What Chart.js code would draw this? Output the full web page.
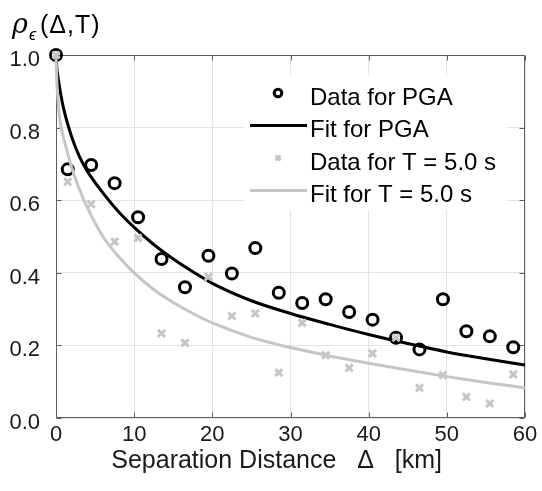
<!DOCTYPE html>
<html>
<head>
<meta charset="utf-8">
<script src="https://cdn.jsdelivr.net/npm/chart.js"></script>
<style>
  body { margin: 0; background: #fff; }
  #wrap { position: relative; width: 542px; height: 491px; }
  #yLabel {
    position: absolute; left: 12px; top: 11px;
    font: 25px "Liberation Sans", Arial, sans-serif; line-height: 25px;
    color: #000; white-space: nowrap; letter-spacing: 1px;
  }
  #yLabel i { font-family: "DejaVu Serif", serif; font-size: 27px; }
  #yLabel sub { font-size: 16px; font-style: italic; vertical-align: -7px; margin-right: 3px; }
</style>
</head>
<body>
<div id="wrap">
  <canvas id="chart" width="542" height="491"></canvas>
  <div id="yLabel"><i>ρ</i><sub>ϵ</sub>(Δ,T)</div>
</div>
<script>
// Afstand mellem stationer (km)
const distKm = [0, 1.5, 4.5, 7.5, 10.5, 13.5, 16.5, 19.5, 22.5, 25.5, 28.5,
                31.5, 34.5, 37.5, 40.5, 43.5, 46.5, 49.5, 52.5, 55.5, 58.5];
// Empiriske korrelationer
const pgaData = [1.0, 0.685, 0.697, 0.647, 0.553, 0.438, 0.36, 0.447, 0.398, 0.468, 0.345,
                 0.317, 0.327, 0.292, 0.271, 0.221, 0.189, 0.327, 0.239, 0.225, 0.195];
const t5Data = [1.0, 0.651, 0.589, 0.486, 0.496, 0.233, 0.207, 0.389, 0.281, 0.288, 0.125,
                0.262, 0.173, 0.138, 0.178, 0.221, 0.083, 0.118, 0.058, 0.04, 0.12];

// Tilpassede kurver
const fitDist = [0, 0.1, 0.25, 0.5, 1, 2, 3, 4, 6, 8, 10, 12.5, 15, 17.5, 20,
                 25, 30, 35, 40, 45, 50, 55, 60];
const pgaFit = [1.0, 0.965, 0.94, 0.905, 0.85, 0.775, 0.72, 0.68, 0.62, 0.568, 0.525, 0.478,
                0.438, 0.403, 0.371, 0.323, 0.288, 0.258, 0.23, 0.205, 0.182, 0.163, 0.146];
const t5Fit = [1.0, 0.93, 0.88, 0.82, 0.77, 0.69, 0.63, 0.58, 0.5, 0.445, 0.4, 0.354,
               0.318, 0.288, 0.262, 0.222, 0.194, 0.171, 0.151, 0.132, 0.114, 0.098, 0.083];

const xTicks = [0, 10, 20, 30, 40, 50, 60];
const yTicks = [0, 0.2, 0.4, 0.6, 0.8, 1.0];
const legendLabels = ['Data for PGA', 'Fit for PGA', 'Data for T = 5.0 s', 'Fit for T = 5.0 s'];

const FONT = '"Liberation Sans", Arial, Helvetica, sans-serif';
const GRAY = '#c6c6c6';

function toPoints(xs, ys) {
    return xs.map(function(x, i) { return { x: x, y: ys[i] }; });
}

// Ramme, indadgående tickmærker og legende
const framePlugin = {
    id: 'framePlugin',
    beforeDatasetsDraw(chart) {
        const ctx = chart.ctx;
        const a = chart.chartArea;
        const xs = chart.scales.x, ys = chart.scales.y;
        const L = Math.round(a.left) + 0.5, R = Math.round(a.right) - 0.5;
        const T = Math.round(a.top) + 0.5, B = Math.round(a.bottom) - 0.5;
        ctx.save();
        ctx.strokeStyle = '#5e5e5e';
        ctx.lineWidth = 1;
        ctx.beginPath();
        ctx.rect(L, T, R - L, B - T);
        xTicks.forEach(function(v) {
            const px = Math.round(xs.getPixelForValue(v)) + 0.5;
            ctx.moveTo(px, B); ctx.lineTo(px, B - 5);
            ctx.moveTo(px, T); ctx.lineTo(px, T + 5);
        });
        yTicks.forEach(function(v) {
            const py = Math.round(ys.getPixelForValue(v)) + 0.5;
            ctx.moveTo(L, py); ctx.lineTo(L + 5, py);
            ctx.moveTo(R, py); ctx.lineTo(R - 5, py);
        });
        ctx.stroke();

        // Legende
        ctx.fillStyle = '#fff';
        ctx.fillRect(244, 75, 263, 135);
        const baselines = [104.5, 137, 169.5, 202];
        const ds = chart.data.datasets;
        baselines.forEach(function(by, i) {
            const d = ds[i];
            const my = by - 11.5;
            ctx.strokeStyle = d.borderColor;
            ctx.lineWidth = d.borderWidth;
            if (d.showLine) {
                ctx.beginPath();
                ctx.moveTo(250, my); ctx.lineTo(307, my);
                ctx.stroke();
            } else {
                ctx.fillStyle = 'rgba(0,0,0,0)';
                Chart.helpers.drawPoint(ctx, {
                    pointStyle: d.pointStyle,
                    radius: d.pointStyle === 'circle' ? 3.8 : 3.6,
                    rotation: 0,
                    borderWidth: d.borderWidth
                }, 278, my);
            }
            ctx.fillStyle = '#000';
            ctx.font = '24px ' + FONT;
            ctx.textBaseline = 'alphabetic';
            ctx.textAlign = 'left';
            ctx.fillText(legendLabels[i], 310, by);
        });
        ctx.restore();
    }
};

const chart = new Chart(document.getElementById('chart'), {
    type: 'scatter',
    data: {
        datasets: [
            {
                label: legendLabels[0],
                data: toPoints(distKm, pgaData),
                pointStyle: 'circle',
                pointRadius: 5.5,
                borderWidth: 3,
                borderColor: '#000',
                backgroundColor: 'rgba(0,0,0,0)',
                showLine: false,
                clip: false,
                order: 4
            },
            {
                label: legendLabels[1],
                data: toPoints(fitDist, pgaFit),
                showLine: true,
                pointRadius: 0,
                borderWidth: 3,
                borderColor: '#000',
                cubicInterpolationMode: 'monotone',
                clip: false,
                order: 3
            },
            {
                label: legendLabels[2],
                data: toPoints(distKm, t5Data),
                pointStyle: 'crossRot',
                pointRadius: 5,
                borderWidth: 3,
                borderColor: GRAY,
                backgroundColor: GRAY,
                showLine: false,
                clip: false,
                order: 2
            },
            {
                label: legendLabels[3],
                data: toPoints(fitDist, t5Fit),
                showLine: true,
                pointRadius: 0,
                borderWidth: 3,
                borderColor: GRAY,
                cubicInterpolationMode: 'monotone',
                clip: false,
                order: 1
            }
        ]
    },
    options: {
        responsive: false,
        animation: false,
        devicePixelRatio: 1,
        layout: { padding: { top: 55, right: 17, left: 0, bottom: 0 } },
        plugins: {
            legend: { display: false },
            tooltip: { enabled: false }
        },
        elements: { point: { hoverRadius: 0 } },
        scales: {
            x: {
                type: 'linear',
                min: 0, max: 60,
                afterFit: function(s) { s.height = 73; },
                afterBuildTicks: function(s) { s.ticks = xTicks.map(function(v) { return { value: v }; }); },
                ticks: {
                    font: { family: FONT, size: 22 },
                    color: '#1a1a1a',
                    padding: 4,
                    maxRotation: 0
                },
                grid: { color: '#e3e3e3', drawTicks: false },
                border: { display: false },
                title: {
                    display: true,
                    text: 'Separation Distance   Δ   [km]    ',
                    font: { family: FONT, size: 25 },
                    color: '#1a1a1a',
                    padding: { top: 0, bottom: 15 }
                }
            },
            y: {
                type: 'linear',
                min: 0, max: 1,
                afterFit: function(s) { s.width = 56; },
                afterBuildTicks: function(s) { s.ticks = yTicks.map(function(v) { return { value: v }; }); },
                ticks: {
                    font: { family: FONT, size: 22 },
                    color: '#1a1a1a',
                    padding: 16,
                    labelOffset: 5,
                    callback: function(v) { return Number(v).toFixed(1); }
                },
                grid: { color: '#e3e3e3', drawTicks: false },
                border: { display: false }
            }
        }
    },
    plugins: [framePlugin]
});
</script>
</body>
</html>
